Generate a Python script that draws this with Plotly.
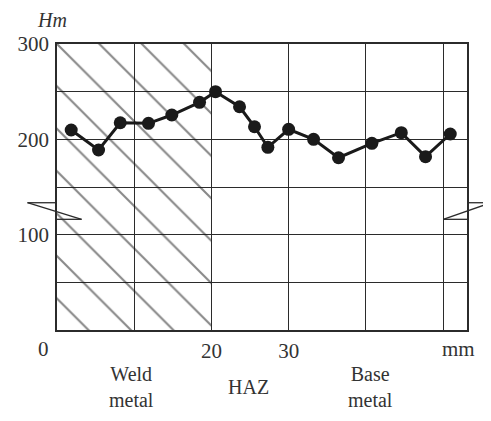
import plotly.graph_objects as go

# ---- data ----
distance_mm = [1.84, 5.38, 8.19, 11.85, 14.87, 18.46, 20.53, 23.64, 25.58, 27.31,
               30.0, 33.23, 36.46, 40.78, 44.59, 47.73, 50.93]
hardness = [209.8, 188.8, 217.4, 216.8, 225.5, 238.8, 250.0, 234.2, 213.2, 191.6,
            210.5, 200.0, 180.7, 195.8, 207.0, 181.8, 205.6]

weld_zone = [0, 20]          # mm, hatched weld-metal region
x_grid = [0, 10, 20, 30, 40, 50]
x_labels = ["", "", "20", "30", "", ""]
y_grid = [50, 100, 150, 200, 250, 300]
y_labels = ["", "100", "", "200", "", "300"]
zone_names = ["Weld<br>metal", "HAZ", "Base<br>metal"]

FONT = "Liberation Serif"
INK = "#2b2b2b"
TXT = "#333"

fig = go.Figure()

# hatched weld zone
fig.add_trace(go.Bar(
    x=[(weld_zone[0] + weld_zone[1]) / 2], y=[300], base=0,
    width=[weld_zone[1] - weld_zone[0]],
    marker=dict(color="rgba(0,0,0,0)", line=dict(width=0),
                pattern=dict(shape="\\", fgcolor="#111", bgcolor="rgba(0,0,0,0)",
                             size=30, solidity=0.07)),
    hoverinfo="skip", showlegend=False))

# hardness profile
fig.add_trace(go.Scatter(
    x=distance_mm, y=hardness, mode="lines+markers",
    line=dict(color="#1a1a1a", width=3),
    marker=dict(color="#1a1a1a", size=13),
    showlegend=False))

# page body adds an 8px margin, so the figure is 8px smaller than the window
fig.update_layout(
    width=483, height=413, autosize=False,
    margin=dict(l=49, r=24, t=36, b=91),
    paper_bgcolor="white", plot_bgcolor="white",
    font=dict(family=FONT, size=21, color=TXT),
    bargap=0,
)
fig.update_xaxes(range=[0, 53.1], tickmode="array", tickvals=x_grid, ticktext=x_labels,
                 showgrid=True, gridcolor=INK, gridwidth=1.3,
                 showline=True, linecolor=INK, linewidth=1.5, mirror=True,
                 ticks="", zeroline=False, ticklabelstandoff=1, automargin=False)
fig.update_yaxes(range=[0, 300], tickmode="array", tickvals=y_grid, ticktext=y_labels,
                 showgrid=True, gridcolor=INK, gridwidth=1.3,
                 showline=True, linecolor=INK, linewidth=1.5, mirror=True,
                 ticks="", zeroline=False, ticklabelstandoff=2, automargin=False)


def label(text, x, xref, y, yref, xshift, yshift, size=21):
    fig.add_annotation(x=x, y=y, xref=xref, yref=yref, text=text, showarrow=False,
                       xanchor="center", yanchor="middle", xshift=xshift, yshift=yshift,
                       font=dict(family=FONT, size=size, color=TXT))


# axis captions
label("0", 0, "x", 0, "paper", -14, -19)
label("mm", 1.0, "paper", 0, "paper", -9, -19)
label("<i>Hm</i>", 0, "paper", 1, "paper", -5, 24, size=20)

# zone names below the axis
zone_x = [131, 248, 370]
for cx, name in zip(zone_x, zone_names):
    px = (cx - 57) / (467 - 57)
    label(name, px, "paper", 0, "paper", 0, -57, size=20)

# axis-break marks
lw = dict(color=INK, width=1.3)
yt, yb = 0.445, 0.387
for x0, y0, x1, y1 in [(-0.072, yt, 0.0, yt), (-0.072, yt, 0.06, yb), (0.0, yb, 0.06, yb),
                       (1.0, yt, 1.059, yt), (0.942, yb, 1.059, yt), (0.942, yb, 1.0, yb)]:
    fig.add_shape(type="line", xref="paper", yref="paper", x0=x0, y0=y0, x1=x1, y1=y1, line=lw)

fig.write_html("out.html")
